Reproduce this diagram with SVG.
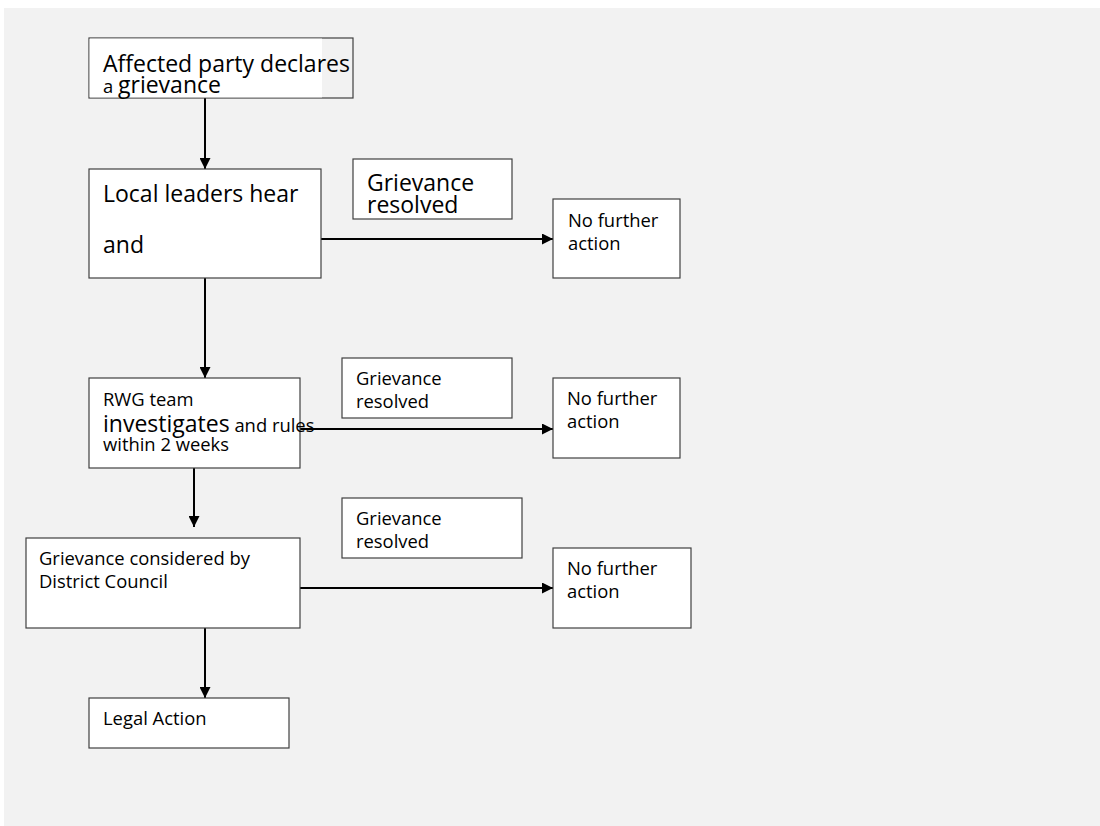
<svg xmlns="http://www.w3.org/2000/svg" width="1100" height="826" viewBox="0 0 1100 826">
<defs>
<style>
.box{fill:#ffffff;stroke:#404040;stroke-width:1.2}
.lg{font-family:"Open Sans","Noto Sans",sans-serif;font-size:23px;fill:#000}
.sm{font-family:"Open Sans","Noto Sans",sans-serif;font-size:18.4px;fill:#000}
.conn{stroke:#000;stroke-width:2;fill:none}
</style>
<marker id="ah" viewBox="0 0 10 10" refX="10" refY="5" markerWidth="11" markerHeight="11" markerUnits="userSpaceOnUse" orient="auto">
<path d="M0,0 L10,5 L0,10 Z" fill="#000"/>
</marker>
</defs>
<rect x="0" y="0" width="1100" height="826" fill="#ffffff"/>
<rect x="4" y="8" width="1096" height="818" fill="#f2f2f2"/>

<g id="connectors">
<line class="conn" x1="205" y1="98" x2="205" y2="169" marker-end="url(#ah)"/>
<line class="conn" x1="321" y1="239" x2="553" y2="239" marker-end="url(#ah)"/>
<line class="conn" x1="205" y1="278" x2="205" y2="378" marker-end="url(#ah)"/>
<line class="conn" x1="300" y1="429" x2="553" y2="429" marker-end="url(#ah)"/>
<line class="conn" x1="194" y1="468" x2="194" y2="527" marker-end="url(#ah)"/>
<line class="conn" x1="300" y1="588" x2="553" y2="588" marker-end="url(#ah)"/>
<line class="conn" x1="205" y1="628" x2="205" y2="698" marker-end="url(#ah)"/>
</g>

<g id="n1">
<rect x="89" y="38" width="264" height="60" fill="#f2f2f2" stroke="#404040" stroke-width="1.2"/>
<rect x="89.6" y="38.6" width="232.4" height="58.8" fill="#ffffff"/>
<text class="lg" x="103" y="72">Affected party declares</text>
<text x="103" y="93"><tspan class="sm">a </tspan><tspan class="lg">grievance</tspan></text>
</g>

<g id="n2">
<rect class="box" x="89" y="169" width="232" height="109"/>
<text class="lg" x="103" y="202">Local leaders hear</text>
<text class="lg" x="103" y="253">and</text>
</g>

<g id="r1">
<rect class="box" x="353" y="159" width="159" height="60"/>
<text class="lg" x="367" y="191">Grievance</text>
<text class="lg" x="367" y="213">resolved</text>
</g>

<g id="nf1">
<rect class="box" x="553" y="199" width="127" height="79"/>
<text class="sm" x="568" y="227">No further</text>
<text class="sm" x="568" y="250">action</text>
</g>

<g id="n3">
<rect class="box" x="89" y="378" width="211" height="90"/>
<text class="sm" x="103" y="406">RWG team</text>
<text x="103" y="432"><tspan class="lg">investigates</tspan><tspan class="sm"> and rules</tspan></text>
<text class="sm" x="103" y="451">within 2 weeks</text>
</g>

<g id="r2">
<rect class="box" x="342" y="358" width="170" height="60"/>
<text class="sm" x="356" y="385">Grievance</text>
<text class="sm" x="356" y="408">resolved</text>
</g>

<g id="nf2">
<rect class="box" x="553" y="378" width="127" height="80"/>
<text class="sm" x="567" y="405">No further</text>
<text class="sm" x="567" y="428">action</text>
</g>

<g id="n4">
<rect class="box" x="26" y="538" width="274" height="90"/>
<text class="sm" x="39" y="565">Grievance considered by</text>
<text class="sm" x="39" y="588">District Council</text>
</g>

<g id="r3">
<rect class="box" x="342" y="498" width="180" height="60"/>
<text class="sm" x="356" y="525">Grievance</text>
<text class="sm" x="356" y="548">resolved</text>
</g>

<g id="nf3">
<rect class="box" x="553" y="548" width="138" height="80"/>
<text class="sm" x="567" y="575">No further</text>
<text class="sm" x="567" y="598">action</text>
</g>

<g id="n5">
<rect class="box" x="89" y="698" width="200" height="50"/>
<text class="sm" x="103" y="725">Legal Action</text>
</g>
</svg>
